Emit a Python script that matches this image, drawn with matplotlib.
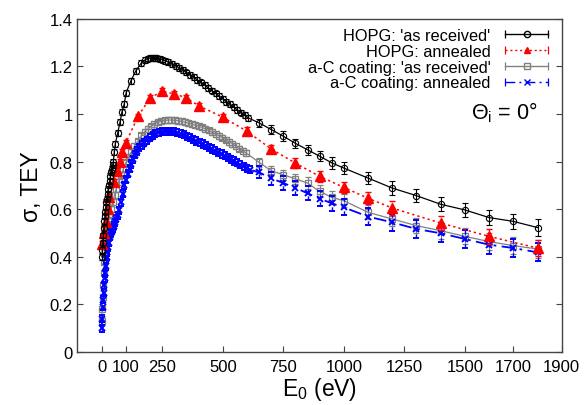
import numpy as np
import matplotlib
matplotlib.use('Agg')
import matplotlib.pyplot as plt
from matplotlib.lines import Line2D
from matplotlib.legend_handler import HandlerLine2D, HandlerTuple

## Plot Styling
matplotlib.rcParams['font.family'] = ['Liberation Sans', 'DejaVu Sans']
matplotlib.rcParams['mathtext.fontset'] = 'custom'
matplotlib.rcParams['mathtext.rm'] = 'Liberation Sans'
matplotlib.rcParams['mathtext.it'] = 'Liberation Sans:italic'
matplotlib.rcParams['xtick.direction'] = 'in'
matplotlib.rcParams['ytick.direction'] = 'in'
matplotlib.rcParams['ytick.right'] = True

# HOPG 'as received'
E_hopg = [1, 3, 5, 7, 9, 11, 13, 15, 17, 19, 21, 24, 27, 30, 33, 36, 39, 42, 45, 48,
          52, 56, 66, 76, 84, 93, 101, 120, 141, 163, 180, 190, 200, 210, 220, 230, 240,
          250, 262, 275, 290, 305, 320, 335, 350, 365, 380, 395, 410, 425, 440, 455, 470,
          485, 500, 515, 530, 545, 560, 575, 590, 605,
          650, 700, 750, 800, 850, 900, 950, 1000, 1100, 1200, 1300, 1400, 1500, 1600, 1700, 1800]
s_hopg = [0.40, 0.43, 0.46, 0.49, 0.52, 0.55, 0.57, 0.59, 0.61, 0.63, 0.645, 0.665, 0.685,
          0.70, 0.72, 0.74, 0.755, 0.77, 0.785, 0.80, 0.84, 0.874, 0.92, 0.968, 1.01, 1.042,
          1.09, 1.138, 1.182, 1.214, 1.228, 1.233, 1.236, 1.237, 1.236, 1.234, 1.232, 1.229,
          1.224, 1.218, 1.211, 1.203, 1.194, 1.185, 1.175, 1.165, 1.155, 1.144, 1.133, 1.122,
          1.110, 1.099, 1.087, 1.075, 1.064, 1.052, 1.041, 1.029, 1.018, 1.006, 0.995, 0.984,
          0.963, 0.935, 0.907, 0.877, 0.85, 0.823, 0.795, 0.773, 0.731, 0.689, 0.657, 0.621,
          0.597, 0.565, 0.549, 0.523]
e_hopg = [0.012] * 62 + [0.018, 0.018, 0.02, 0.02, 0.022, 0.022, 0.024, 0.025,
                         0.026, 0.028, 0.028, 0.03, 0.03, 0.032, 0.033, 0.035]

# HOPG annealed
E_hopg_an = [2, 10, 18, 25, 32, 50, 65, 75, 85, 100, 150, 200, 250, 300, 350, 400, 500, 600,
             700, 800, 900, 1000, 1100, 1200, 1400, 1600, 1800]
s_hopg_an = [0.455, 0.50, 0.545, 0.60, 0.65, 0.715, 0.76, 0.80, 0.84, 0.88, 0.99, 1.068,
             1.096, 1.085, 1.068, 1.035, 0.987, 0.928, 0.853, 0.794, 0.738, 0.692, 0.646,
             0.605, 0.542, 0.486, 0.437]
e_hopg_an = [0.012] * 16 + [0.015, 0.017, 0.018, 0.02, 0.022, 0.024, 0.026, 0.028,
                            0.03, 0.032, 0.034]

# a-C coating 'as received'
E_ac = [0, 2, 4, 6, 8, 10, 12, 14, 16, 18, 22, 26, 32, 39, 46, 53, 60, 70, 80, 90, 101,
        112, 122, 135, 149, 163, 177, 190, 204, 218, 232, 246, 260, 274, 288, 302, 316, 330,
        344, 358, 372, 386, 400, 414, 428, 442, 456, 470, 484, 498, 512, 526, 540, 554, 568,
        582, 596,
        650, 700, 750, 800, 850, 900, 950, 1000, 1100, 1200, 1300, 1400, 1500, 1600, 1700, 1800]
s_ac = [0.13, 0.18, 0.23, 0.28, 0.33, 0.38, 0.42, 0.46, 0.49, 0.515, 0.54, 0.555, 0.575,
        0.60, 0.63, 0.66, 0.685, 0.715, 0.745, 0.77, 0.797, 0.82, 0.84, 0.865, 0.885, 0.91,
        0.925, 0.937, 0.948, 0.958, 0.965, 0.97, 0.973, 0.975, 0.975, 0.974, 0.972, 0.97,
        0.966, 0.962, 0.958, 0.953, 0.949, 0.944, 0.938, 0.931, 0.924, 0.917, 0.909, 0.901,
        0.893, 0.884, 0.875, 0.865, 0.855, 0.845, 0.837,
        0.797, 0.762, 0.745, 0.728, 0.71, 0.675, 0.65, 0.636, 0.587, 0.559, 0.531, 0.51,
        0.486, 0.464, 0.447, 0.433]
e_ac = [0.012] * 57 + [0.018, 0.02, 0.02, 0.022, 0.024, 0.025, 0.026, 0.028, 0.03,
                       0.03, 0.032, 0.033, 0.034, 0.035, 0.035, 0.036]

# a-C coating annealed
E_ac_an = [0, 2, 4, 6, 8, 10, 12, 14, 16, 18, 20, 23, 26, 30, 34, 38, 42, 46, 50, 55, 60,
           66, 72, 80, 87, 94, 101, 108, 115, 122, 130, 138, 146, 155, 165, 175, 186, 198,
           210, 222, 235, 248, 261, 274, 287, 300, 313, 326, 339, 352, 365, 378, 391, 404,
           417, 430, 443, 456, 469, 482, 495, 508, 521, 534, 547, 560, 573, 586, 599, 612,
           650, 700, 750, 800, 850, 900, 950, 1000, 1100, 1200, 1300, 1400, 1500, 1600, 1700, 1800]
s_ac_an = [0.10, 0.14, 0.19, 0.22, 0.25, 0.28, 0.31, 0.33, 0.36, 0.39, 0.40, 0.42, 0.44,
           0.46, 0.485, 0.50, 0.51, 0.52, 0.53, 0.545, 0.56, 0.575, 0.595, 0.63, 0.665, 0.70,
           0.725, 0.75, 0.77, 0.79, 0.81, 0.83, 0.845, 0.86, 0.87, 0.88, 0.89, 0.9, 0.91,
           0.918, 0.923, 0.926, 0.928, 0.928, 0.927, 0.925, 0.922, 0.918, 0.913, 0.907,
           0.901, 0.894, 0.887, 0.881, 0.874, 0.867, 0.86, 0.853, 0.846, 0.839, 0.832,
           0.825, 0.818, 0.81, 0.803, 0.795, 0.788, 0.78, 0.773, 0.766,
           0.755, 0.73, 0.71, 0.69, 0.667, 0.645, 0.625, 0.608, 0.569, 0.545, 0.517, 0.499,
           0.475, 0.451, 0.437, 0.419]
e_ac_an = [0.015] * 70 + [0.025, 0.026, 0.028, 0.03, 0.03, 0.032, 0.032, 0.034, 0.035,
                          0.035, 0.036, 0.036, 0.037, 0.038, 0.038, 0.038]

xticks = [0, 100, 250, 500, 750, 1000, 1250, 1500, 1700, 1900]
yticks = [0, 0.2, 0.4, 0.6, 0.8, 1.0, 1.2, 1.4]
ytick_labels = ['0', '0.2', '0.4', '0.6', '0.8', '1', '1.2', '1.4']

labels = ["HOPG: 'as received'", "HOPG: annealed",
          "a-C coating: 'as received'", "a-C coating: annealed"]

fig = plt.figure(figsize=(5.87, 4.06), dpi=100)
ax = fig.add_axes([0.132, 0.1305, 0.825, 0.8205])

c_black, c_red, c_gray, c_blue = '#000000', '#ff0000', '#808080', '#0000ff'
ls_red = (0, (1.5, 2))
ls_blue = (0, (7, 3, 1.5, 3))

ax.errorbar(E_ac, s_ac, yerr=e_ac, color=c_gray, lw=0.9, marker='s', ms=3.8,
            mfc='none', mew=0.9, capsize=2.5, elinewidth=0.8, zorder=2)
eb = ax.errorbar(E_ac_an, s_ac_an, yerr=e_ac_an, color=c_blue, lw=1.3, ls=ls_blue,
                 marker='x', ms=4.5, mew=1.4, capsize=2.5, elinewidth=1.0, zorder=3)
eb[2][0].set_linestyle((0, (3, 2)))
eb = ax.errorbar(E_hopg_an, s_hopg_an, yerr=e_hopg_an, color=c_red, lw=1.1, ls=ls_red,
                 marker='^', ms=6.5, capsize=2.5, elinewidth=0.9, zorder=4)
eb[2][0].set_linestyle((0, (1.5, 2)))
ax.errorbar(E_hopg, s_hopg, yerr=e_hopg, color=c_black, lw=0.9, marker='o', ms=4.5,
            mfc='none', mew=0.8, capsize=2.5, elinewidth=0.8, zorder=5)

# gnuplot-like legend samples: line with end caps and a marker in the middle
styles = [(c_black, '-', 'o', 'none'), (c_red, ls_red, '^', c_red),
          (c_gray, '-', 's', 'none'), (c_blue, ls_blue, 'x', c_blue)]
handles, hmap = [], {}
for c, ls, m, fc in styles:
    cap = Line2D([], [], color=c, ls=ls, lw=1.0, marker='|', ms=6, mew=0.9)
    mk = Line2D([], [], color=c, ls='none', marker=m, ms=4.5, mfc=fc, mew=1.0)
    handles.append((cap, mk))
    hmap[cap] = HandlerLine2D(numpoints=2)
    hmap[mk] = HandlerLine2D(numpoints=1)
hmap[tuple] = HandlerTuple(ndivide=1)
leg = ax.legend(handles, labels, handler_map=hmap,
                loc='upper right', markerfirst=False, frameon=False, fontsize=11.8,
                handlelength=3.2, labelspacing=0.05, borderaxespad=0.15, handletextpad=0.6)

ax.text(0.95, 0.72, r'$\Theta_\mathrm{i}$ = 0°', transform=ax.transAxes,
        ha='right', va='center', fontsize=15.5)

ax.set_xlim(-100, 1900)
ax.set_ylim(0, 1.4)
ax.set_xticks(xticks)
ax.set_yticks(yticks)
ax.set_yticklabels(ytick_labels)
ax.tick_params(labelsize=12, length=4, width=0.8, color='#444444')
ax.tick_params(axis='x', pad=5)
for sp in ax.spines.values():
    sp.set_color('#444444')
    sp.set_linewidth(1.0)
ax.set_xlabel(r'E$_0$ (eV)', fontsize=16.5, labelpad=1)
ax.set_ylabel('σ, TEY', fontsize=16.5, labelpad=5)

plt.savefig('out.png', dpi=100)
